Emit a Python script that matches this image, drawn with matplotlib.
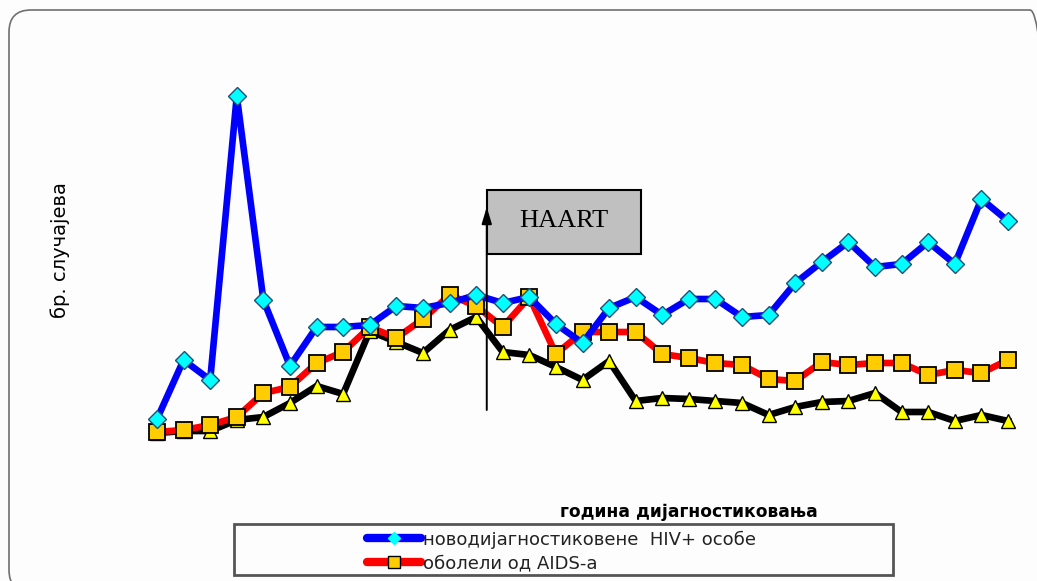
import matplotlib
matplotlib.use("Agg")
import matplotlib.pyplot as plt
from matplotlib.patches import FancyBboxPatch, Rectangle
from matplotlib.lines import Line2D
from matplotlib.transforms import IdentityTransform

# Data (33 years, values in arbitrary "cases" units)
years = list(range(1984, 2017))
hiv_new = [21, 80, 60, 344, 140, 74, 113, 113, 115, 134, 132, 137, 145, 137, 143, 116,
           97, 132, 143, 125, 141, 141, 123, 125, 157, 178, 198, 173, 176, 198, 176, 241, 219]
aids = [8, 10, 15, 23, 47, 53, 77, 88, 113, 102, 121, 145, 134, 113, 143, 86,
        108, 108, 108, 86, 82, 77, 75, 61, 59, 78, 75, 77, 77, 65, 70, 67, 80]
deaths = [7, 9, 9, 20, 23, 37, 54, 46, 109, 98, 87, 110, 123, 88, 85, 73,
          60, 79, 39, 42, 41, 39, 37, 25, 33, 38, 39, 47, 28, 28, 19, 25, 19]
labels = ["новодијагностиковене  HIV+ особе", "оболели од AIDS-а"]
haart_year = 1996.4

W, H = 1037, 581
fig = plt.figure(figsize=(W / 100, H / 100), dpi=100)
fig.patch.set_facecolor("#fdfdfd")

def fx(px):
    return px / W

def fy(py):
    return 1 - py / H

# outer rounded frame (pixel coordinates, origin bottom-left)
frame = FancyBboxPatch((9, H - 592), 1052 - 9, 592 - 10,
                       boxstyle="round,pad=0,rounding_size=22",
                       transform=IdentityTransform(), facecolor="none",
                       edgecolor="#707070", linewidth=1.2, zorder=-1)
fig.patches.append(frame)

# axes: year 1984 -> px 157, 2016 -> px 1008 ; value v -> py = 440 - v
ax_l, ax_r, ax_t, ax_b = 120, 1030, 60, 470
ax = fig.add_axes([fx(ax_l), fy(ax_b), fx(ax_r) - fx(ax_l), fy(ax_t) - fy(ax_b)])
ax.set_facecolor("none")
step = (1008 - 157) / 32
ax.set_xlim(1984 + (ax_l - 157) / step, 1984 + (ax_r - 157) / step)
ax.set_ylim(440 - ax_b, 440 - ax_t)
for s in ax.spines.values():
    s.set_visible(False)
ax.set_xticks([])
ax.set_yticks([])

ax.plot(years, deaths, color="black", lw=4.8, marker="^", ms=9.5,
        mfc="#ffff00", mec="black", mew=1.0, solid_joinstyle="round", zorder=3)
ax.plot(years, aids, color="#ff0000", lw=4.8, marker="s", ms=11.5,
        mfc="#ffcc00", mec="black", mew=1.3, solid_joinstyle="round", zorder=4)
ax.plot(years, hiv_new, color="#0000ff", lw=4.8, marker="D", ms=9.5,
        mfc="#00ffff", mec="#1f4e79", mew=1.0, solid_joinstyle="round", zorder=5)

# HAART annotation
x0 = 1984 + (487 - 157) / step
x1 = 1984 + (641 - 157) / step
ax.add_patch(Rectangle((x0, 440 - 254), x1 - x0, 64, facecolor="#c0c0c0",
                       edgecolor="black", lw=1.5, zorder=6))
ax.text((x0 + x1) / 2, 440 - 221, "HAART", ha="center", va="center",
        fontsize=19, family="Liberation Serif", zorder=7)
ax.annotate("", xy=(haart_year, 440 - 207), xytext=(haart_year, 440 - 410),
            arrowprops=dict(arrowstyle="-|>,head_width=0.3,head_length=1.0",
                            color="black", lw=1.4, shrinkA=0, shrinkB=0), zorder=8)

# axis labels
fig.text(fx(60), fy(250), "бр. случајева", rotation=90, ha="center", va="center",
         fontsize=14, family="DejaVu Sans")
fig.text(fx(818), fy(512), "година дијагностиковања", ha="right", va="center",
         fontsize=12.3, fontweight="bold", family="DejaVu Sans")

# legend box
fig.patches.append(Rectangle((fx(234), fy(575)), fx(893) - fx(234), fy(524) - fy(575),
                             transform=fig.transFigure, facecolor="none",
                             edgecolor="#555555", lw=2, zorder=5))
h1 = Line2D([], [], color="#0000ff", lw=6, marker="D", ms=6, mfc="#00ffff",
            mec="#00ffff", solid_capstyle="round")
h2 = Line2D([], [], color="#ff0000", lw=6, marker="s", ms=9, mfc="#ffcc00",
            mec="black", solid_capstyle="round")
leg = fig.legend([h1, h2], labels, loc="upper left",
                 bbox_to_anchor=(fx(353), fy(517)), frameon=False,
                 prop={"family": "DejaVu Sans", "size": 13},
                 handlelength=3.0, handletextpad=0.15, labelspacing=0.3,
                 borderpad=0.25, markerscale=1.0)
for t in leg.get_texts():
    t.set_color("#222222")

fig.savefig("out.png", dpi=100, facecolor=fig.get_facecolor())
